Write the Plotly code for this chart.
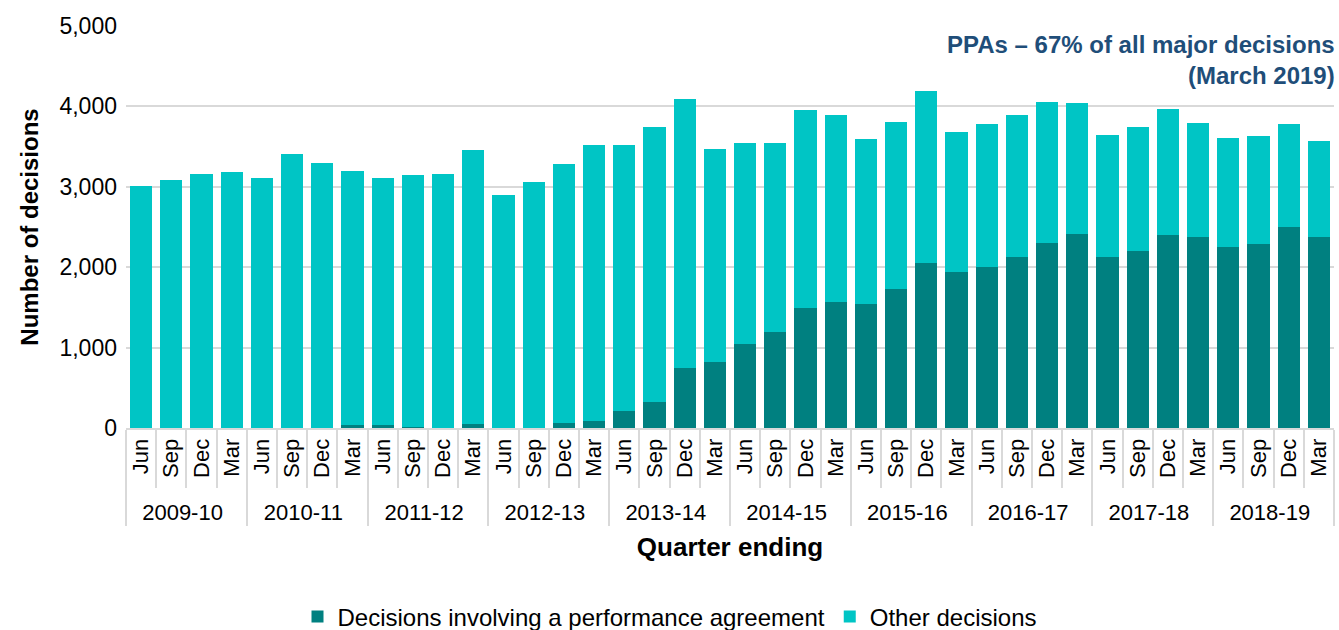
import plotly.graph_objects as go

years = ["2009-10", "2010-11", "2011-12", "2012-13", "2013-14",
         "2014-15", "2015-16", "2016-17", "2017-18", "2018-19"]
quarters = ["Jun", "Sep", "Dec", "Mar"]

ppa = [0, 0, 5, 0, 0, 0, 0, 35, 35, 10, 5, 55,
       5, 5, 65, 90, 210, 325, 750, 825, 1050, 1195, 1490, 1565,
       1540, 1725, 2055, 1935, 2005, 2130, 2305, 2410, 2125, 2205, 2395, 2370,
       2250, 2290, 2505, 2370]
other = [3010, 3090, 3150, 3185, 3115, 3410, 3295, 3165, 3070, 3135, 3155, 3400,
         2895, 3050, 3215, 3435, 3315, 3425, 3340, 2645, 2500, 2355, 2465, 2330,
         2060, 2080, 2135, 1750, 1780, 1765, 1745, 1635, 1520, 1545, 1570, 1425,
         1355, 1345, 1270, 1195]

x_outer = [y for y in years for q in quarters]
x_inner = [q for y in years for q in quarters]
x = [x_outer, x_inner]

FONT = "Liberation Sans, Arial, sans-serif"

fig = go.Figure()
fig.add_bar(x=x, y=ppa, name="Decisions involving a performance agreement",
            marker=dict(color="#008080", line=dict(width=0)))
fig.add_bar(x=x, y=other, name="Other decisions",
            marker=dict(color="#00C5C5", line=dict(width=0)))

fig.update_layout(
    barmode="stack",
    bargap=0.27,
    width=1339, height=630,
    margin=dict(l=126, r=5, t=26, b=202, autoexpand=False),
    plot_bgcolor="white", paper_bgcolor="white",
    font=dict(family=FONT, color="black", size=22),
    legend=dict(orientation="h", x=0.5, xanchor="center", xref="container",
                y=-0.47, yanchor="middle", yref="paper",
                font=dict(size=24), traceorder="normal", itemwidth=30),
    annotations=[dict(text="<b>PPAs – 67% of all major decisions<br>(March 2019)</b>",
                      xref="paper", yref="paper", x=1.0, y=1.0, xshift=3, yshift=-3,
                      xanchor="right", yanchor="top", align="right", showarrow=False,
                      font=dict(size=24, color="#1F4E79"))],
)
fig.update_yaxes(range=[0, 5000], dtick=1000, tickformat=",", showgrid=True,
                 gridcolor="#D9D9D9", gridwidth=1.5, zeroline=False, automargin=False,
                 tickfont=dict(size=23), ticks="", ticklabelstandoff=8,
                 title=dict(text="<b>Number of decisions</b>", font=dict(size=24), standoff=14))
fig.update_xaxes(type="multicategory", tickangle=-90, automargin=False,
                 tickfont=dict(size=22),
                 showline=True, linecolor="#D9D9D9", linewidth=2,
                 ticks="outside", tickson="boundaries", ticklen=58, tickcolor="#D9D9D9",
                 tickwidth=1.5, showdividers=True, dividercolor="#D9D9D9", dividerwidth=1.5,
                 title=dict(text="<b>Quarter ending</b>", font=dict(size=26), standoff=14))

fig.write_html("out.html", post_script="document.body.style.margin='0';",
               config={"displayModeBar": False})
